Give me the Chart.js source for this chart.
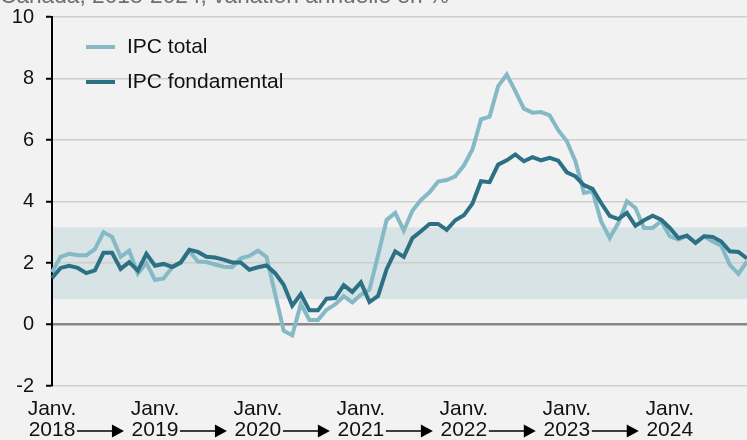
<!DOCTYPE html>
<html lang="fr">
<head>
<meta charset="utf-8">
<title>IPC total et IPC fondamental</title>
<script src="https://cdn.jsdelivr.net/npm/chart.js@4.4.1/dist/chart.umd.min.js"></script>
<style>
    html, body { margin: 0; padding: 0; background: #f2f2f2; overflow: hidden; }
    #wrap { position: relative; width: 747px; height: 440px; }
    #sous-titre {
        position: absolute; left: 0; top: -16px; white-space: nowrap;
        font: 22.7px/22px "Liberation Sans", Arial, sans-serif; color: #6e6e6e;
    }
</style>
</head>
<body>
<div id="wrap">
    <div id="sous-titre">Canada, 2018-2024, variation annuelle en %</div>
    <canvas id="ipc"></canvas>
</div>
<script>
    "use strict";

    // Data (janv. 2018 -> oct. 2024, monthly)
    const years = [2018, 2019, 2020, 2021, 2022, 2023, 2024];
    const yTicks = [-2, 0, 2, 4, 6, 8, 10];
    const seriesNames = ['IPC total', 'IPC fondamental'];
    const bandLow = 0.83;
    const bandHigh = 3.16;

    const ipcTotal = [
        1.7, 2.2, 2.3, 2.25, 2.25, 2.45, 3.0, 2.85, 2.2, 2.4, 1.65, 2.0,
        1.45, 1.5, 1.85, 2.0, 2.4, 2.05, 2.03, 1.95, 1.88, 1.86, 2.15, 2.23,
        2.4, 2.2, 1.0, -0.2, -0.35, 0.67, 0.15, 0.15, 0.48, 0.65, 0.92, 0.72,
        0.97, 1.13, 2.25, 3.4, 3.63, 3.05, 3.7, 4.05, 4.3, 4.65, 4.7, 4.82,
        5.17, 5.69, 6.67, 6.76, 7.75, 8.13, 7.59, 7.02, 6.89, 6.91, 6.8, 6.32,
        5.96, 5.31, 4.28, 4.33, 3.35, 2.81, 3.3, 4.01, 3.79, 3.14, 3.14, 3.36,
        2.87, 2.76, 2.89, 2.67, 2.87, 2.7, 2.56, 1.94, 1.65, 2.05
    ];
    const ipcFondamental = [
        1.51, 1.84, 1.91, 1.84, 1.67, 1.76, 2.33, 2.33, 1.81, 2.03, 1.75, 2.3,
        1.91, 1.97, 1.87, 2.02, 2.43, 2.36, 2.2, 2.18, 2.11, 2.02, 2.02, 1.78,
        1.86, 1.92, 1.67, 1.29, 0.61, 0.99, 0.46, 0.46, 0.84, 0.86, 1.28, 1.06,
        1.37, 0.73, 0.93, 1.8, 2.38, 2.2, 2.81, 3.03, 3.27, 3.27, 3.08, 3.39,
        3.55, 3.93, 4.66, 4.63, 5.2, 5.34, 5.53, 5.31, 5.44, 5.34, 5.42, 5.33,
        4.95, 4.82, 4.53, 4.41, 3.95, 3.53, 3.43, 3.63, 3.21, 3.39, 3.54, 3.41,
        3.14, 2.81, 2.89, 2.65, 2.87, 2.85, 2.7, 2.38, 2.36, 2.15
    ];

    // monthly category labels
    let months = [];
    years.forEach(function (y) {
        for (let m = 1; m <= 12; m++) {
            months.push(y + '-' + (m < 10 ? '0' + m : m));
        }
    });
    months = months.slice(0, ipcTotal.length);

    const colTotal = '#86b9c6';
    const colFond = '#2b7083';
    const fontFamily = '"Liberation Sans", Arial, sans-serif';

    // shaded band behind the grid
    const bandPlugin = {
        id: 'band',
        beforeDraw: function (chart) {
            const ctx = chart.ctx, area = chart.chartArea;
            const y = chart.scales.y;
            const top = y.getPixelForValue(bandHigh);
            const bottom = y.getPixelForValue(bandLow);
            ctx.save();
            ctx.fillStyle = '#d8e3e5';
            ctx.fillRect(area.left, top, area.right - area.left, bottom - top);
            ctx.restore();
        }
    };

    // legend in the upper left corner
    const legendPlugin = {
        id: 'legende',
        afterDraw: function (chart) {
            const ctx = chart.ctx;
            const colors = [colTotal, colFond];
            ctx.save();
            ctx.font = '21px ' + fontFamily;
            ctx.textBaseline = 'middle';
            seriesNames.forEach(function (name, i) {
                const y = 47 + i * 35;
                ctx.strokeStyle = colors[i];
                ctx.lineWidth = 4;
                ctx.beginPath();
                ctx.moveTo(86, y);
                ctx.lineTo(115, y);
                ctx.stroke();
                ctx.fillStyle = '#111';
                ctx.fillText(name, 127, y);
            });
            ctx.restore();
        }
    };

    // arrows between the years
    const arrowPlugin = {
        id: 'fleches',
        afterDraw: function (chart) {
            const ctx = chart.ctx, x = chart.scales.x;
            const y = 431;
            ctx.save();
            ctx.strokeStyle = '#000';
            ctx.fillStyle = '#000';
            ctx.lineWidth = 1.5;
            for (let i = 0; i < years.length - 1; i++) {
                const x0 = x.getPixelForValue(i * 12) + 25;
                const x1 = x.getPixelForValue((i + 1) * 12) - 31;
                ctx.beginPath();
                ctx.moveTo(x0, y);
                ctx.lineTo(x1 - 10, y);
                ctx.stroke();
                ctx.beginPath();
                ctx.moveTo(x1 - 12, y - 6.5);
                ctx.lineTo(x1, y);
                ctx.lineTo(x1 - 12, y + 6.5);
                ctx.closePath();
                ctx.fill();
            }
            ctx.restore();
        }
    };

    const ctx = document.getElementById('ipc');
    const myChart = new Chart(ctx, {
        type: 'line',
        data: {
            labels: months,
            datasets: [{
                label: seriesNames[1],
                data: ipcFondamental,
                borderColor: colFond,
                borderWidth: 4,
                order: 0
            }, {
                label: seriesNames[0],
                data: ipcTotal,
                borderColor: colTotal,
                borderWidth: 4,
                order: 1
            }]
        },
        options: {
            responsive: true,
            maintainAspectRatio: false,
            animation: false,
            layout: { padding: { top: 17, right: 0, left: 0, bottom: 0 } },
            elements: {
                point: { radius: 0 },
                line: { tension: 0 }
            },
            plugins: {
                legend: { display: false },
                tooltip: { enabled: false }
            },
            scales: {
                x: {
                    type: 'category',
                    offset: false,
                    grid: { display: false, drawTicks: false },
                    border: { display: false },
                    afterFit: function (scale) {
                        scale.height = 54;
                        scale.paddingLeft = 0;
                        scale.paddingRight = 0;
                    },
                    ticks: {
                        autoSkip: false,
                        maxRotation: 0,
                        padding: 12,
                        color: '#111',
                        font: { family: fontFamily, size: 21, lineHeight: 1.03 },
                        callback: function (value, index) {
                            if (index % 12 !== 0) return null;
                            return ['Janv.', String(years[index / 12])];
                        }
                    }
                },
                y: {
                    min: yTicks[0],
                    max: yTicks[yTicks.length - 1],
                    afterFit: function (scale) {
                        scale.width = 52;
                        scale.paddingTop = 0;
                        scale.paddingBottom = 0;
                    },
                    afterBuildTicks: function (scale) {
                        scale.ticks = yTicks.map(function (v) { return { value: v }; });
                    },
                    border: { display: true, color: '#000', width: 2 },
                    grid: {
                        color: function (c) { return c.tick && c.tick.value === 0 ? '#878787' : '#cdcdcd'; },
                        lineWidth: function (c) { return c.tick && c.tick.value === 0 ? 2.5 : 1.5; },
                        tickColor: '#000',
                        tickLength: 6,
                        tickWidth: 2
                    },
                    ticks: {
                        padding: 12,
                        color: '#111',
                        font: { family: fontFamily, size: 20 }
                    }
                }
            }
        },
        plugins: [bandPlugin, legendPlugin, arrowPlugin]
    });
</script>
</body>
</html>
